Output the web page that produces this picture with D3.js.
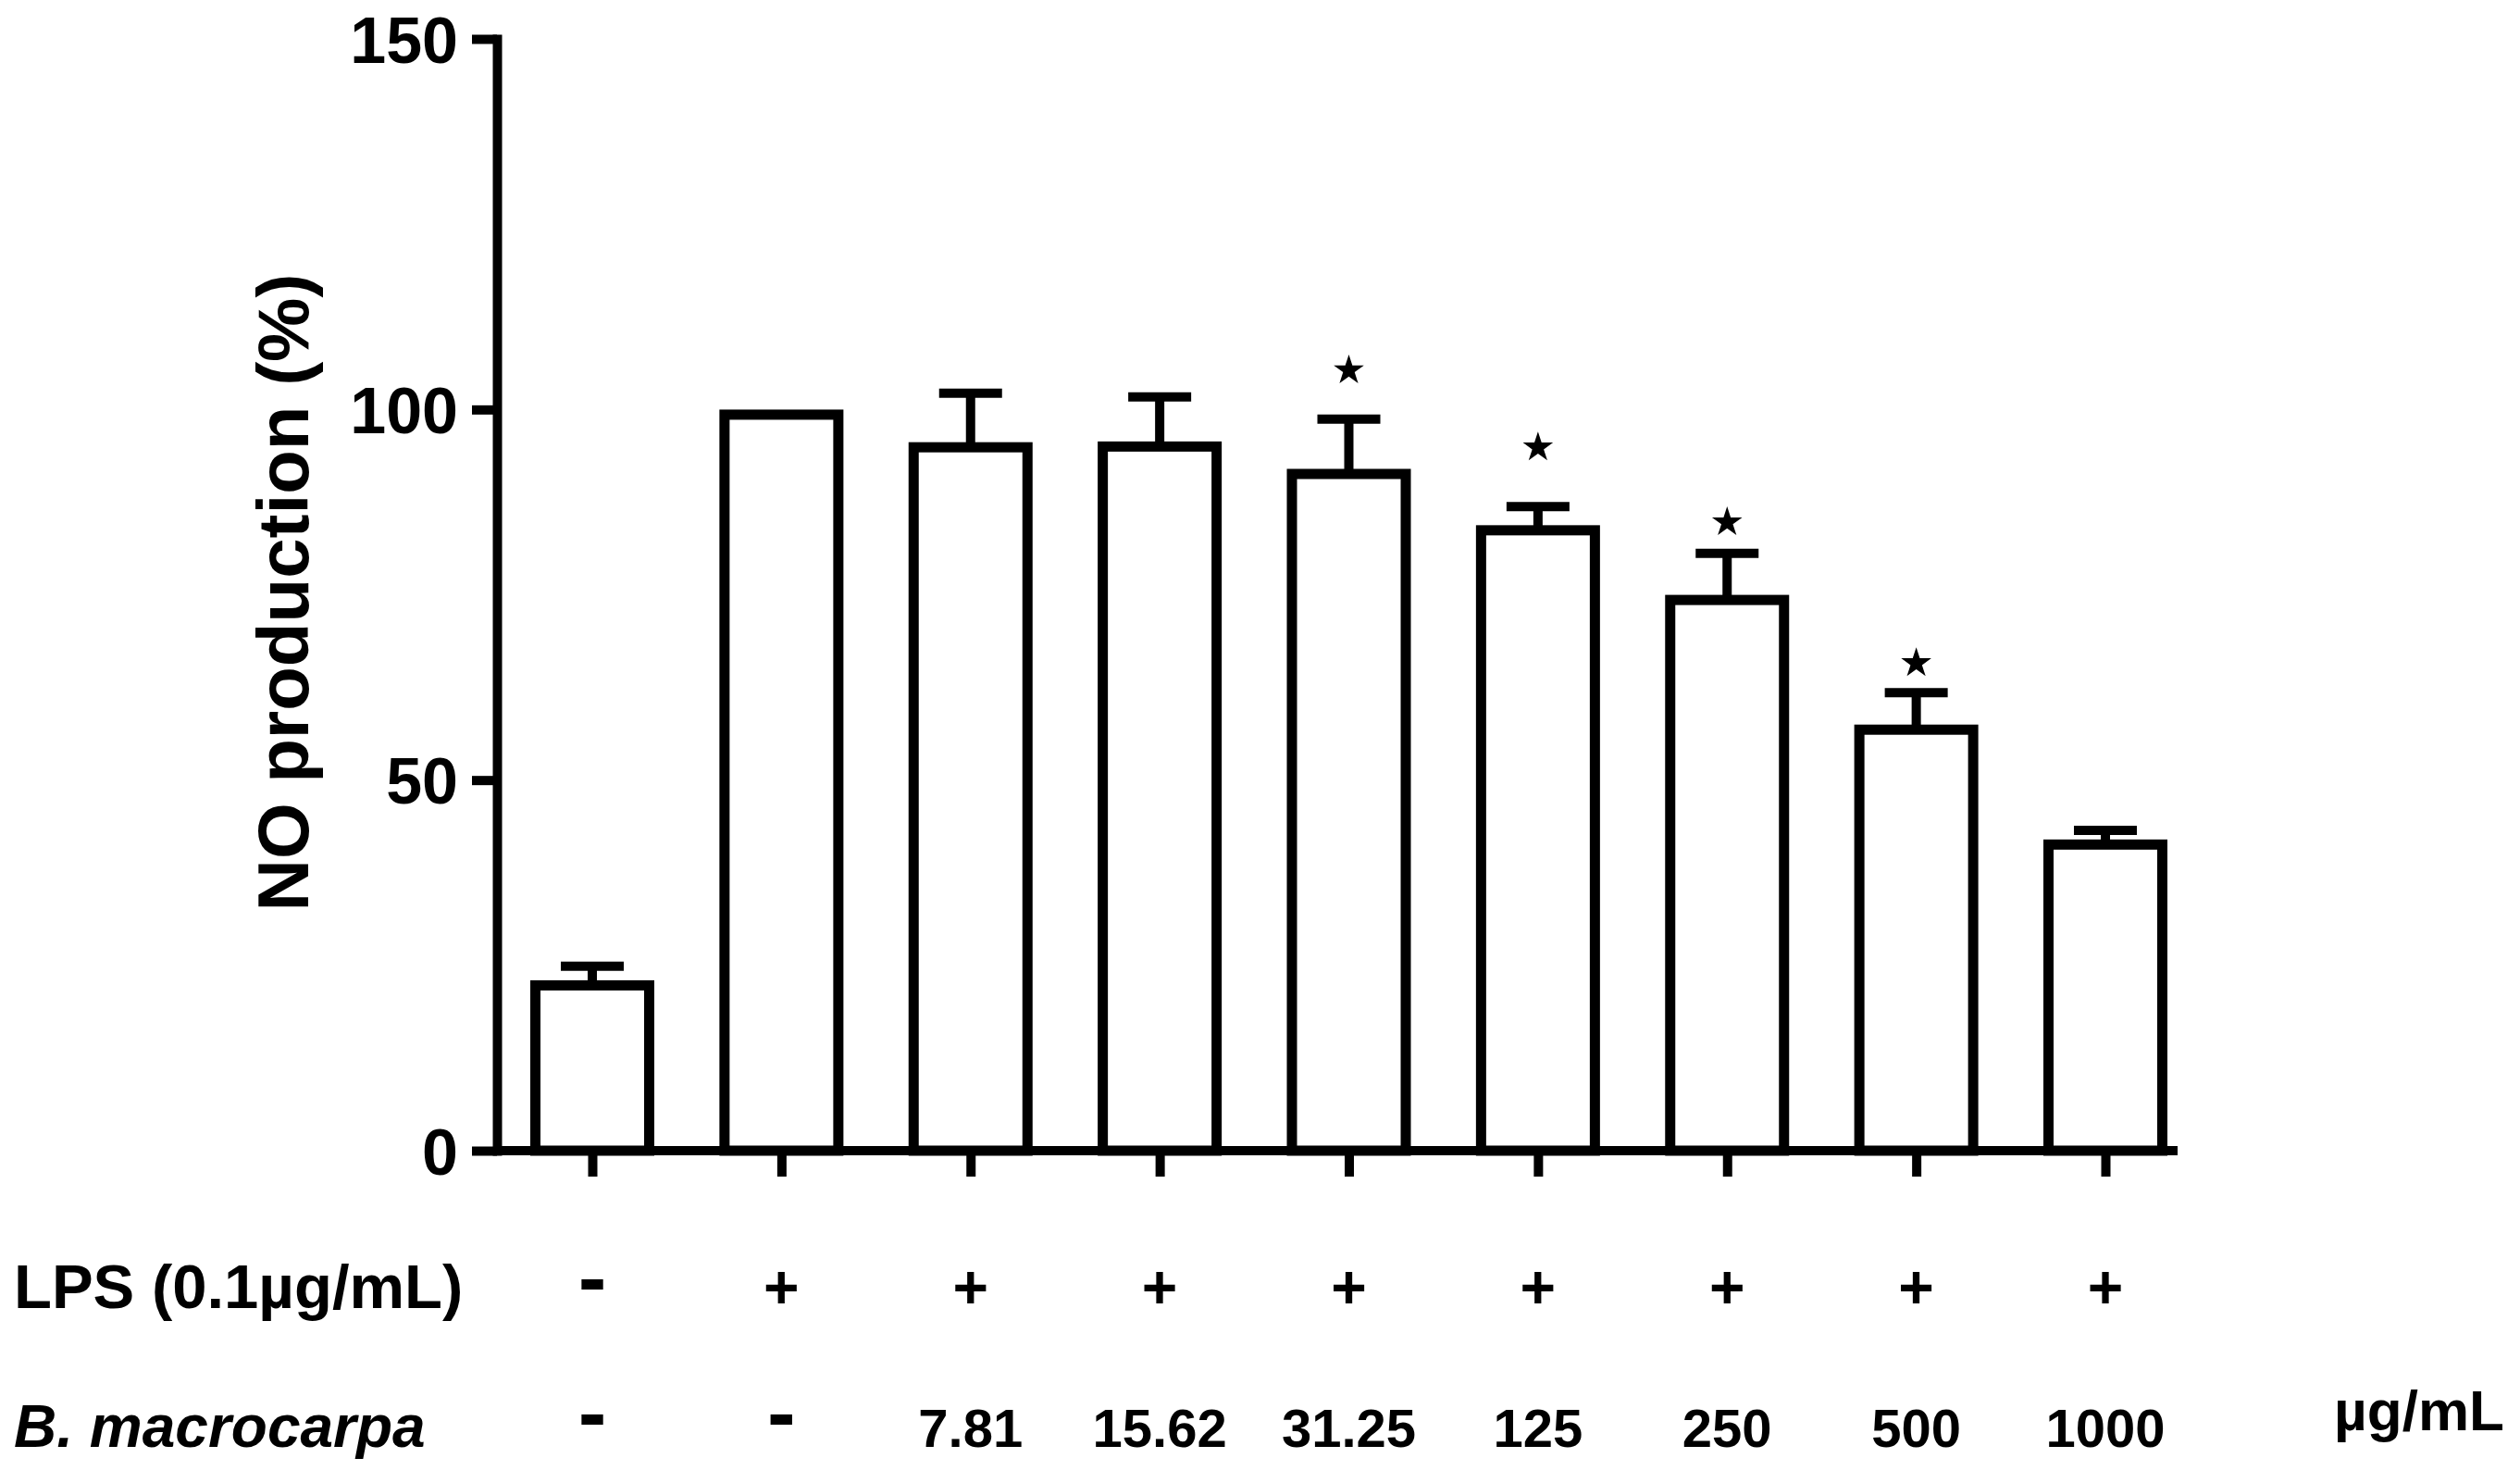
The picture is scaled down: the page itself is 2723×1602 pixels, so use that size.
<!DOCTYPE html>
<html>
<head>
<meta charset="utf-8">
<script src="https://cdn.jsdelivr.net/npm/d3@7"></script>
<style>
  html, body { margin: 0; padding: 0; background: #fff; }
  svg { display: block; }
  text { font-family: "Liberation Sans", Arial, Helvetica, sans-serif; font-weight: bold; fill: #000; }
</style>
</head>
<body>
<script>
// ---- Data ----
const groups = ["Control", "LPS", "7.81", "15.62", "31.25", "125", "250", "500", "1000"];
const lpsRow = ["-", "+", "+", "+", "+", "+", "+", "+", "+"];
const extractRow = ["-", "-", "7.81", "15.62", "31.25", "125", "250", "500", "1000"];
const means = [22.3, 99.3, 94.9, 95.0, 91.3, 83.7, 74.3, 56.8, 41.3];
const errors = [2.6, 0, 7.3, 6.7, 7.4, 3.2, 6.3, 5.0, 1.9];
const starLevels = [null, null, null, null, 105.4, 95.0, 84.9, 65.9, null];
const yTicks = [0, 50, 100, 150];
const yTitle = "NO production (%)";
const row1Label = "LPS (0.1\u00b5g/mL)";
const row2Label = "B. macrocarpa";
const unitLabel = "\u00b5g/mL";

// ---- Layout ----
const W = 2723, H = 1602;
const axisX = 537, topY = 42, baseY = 1243;
const firstX = 640, lastX = 2275, axisEndX = 2353;
const barW = 123, capW = 68;
const lw = 10;

const svg = d3.select("body").append("svg")
  .attr("width", W).attr("height", H)
  .attr("viewBox", `0 0 ${W} ${H}`);

const x = d3.scalePoint().domain(groups).range([firstX, lastX]);
const y = d3.scaleLinear().domain([0, 150]).range([baseY, topY]);

const data = groups.map((g, i) => ({ g, m: means[i], e: errors[i], s: starLevels[i] }));

// Bars
svg.append("g").selectAll("rect").data(data).join("rect")
  .attr("x", d => x(d.g) - barW / 2)
  .attr("y", d => y(d.m))
  .attr("width", barW)
  .attr("height", d => y(0) - y(d.m))
  .attr("fill", "#fff")
  .attr("stroke", "#000")
  .attr("stroke-width", 11);

// Error bars (upper only)
const eb = svg.append("g").attr("stroke", "#000").attr("stroke-width", lw);
eb.selectAll("line.v").data(data.filter(d => d.e > 0)).join("line")
  .attr("class", "v")
  .attr("x1", d => x(d.g)).attr("x2", d => x(d.g))
  .attr("y1", d => y(d.m)).attr("y2", d => y(d.m + d.e));
eb.selectAll("line.c").data(data.filter(d => d.e > 0)).join("line")
  .attr("class", "c")
  .attr("x1", d => x(d.g) - capW / 2).attr("x2", d => x(d.g) + capW / 2)
  .attr("y1", d => y(d.m + d.e)).attr("y2", d => y(d.m + d.e));

// Significance stars
const star = d3.symbol().type(d3.symbolStar).size(330);
svg.append("g").selectAll("path").data(data.filter(d => d.s !== null)).join("path")
  .attr("d", star)
  .attr("transform", d => `translate(${x(d.g)},${y(d.s) + 1})`)
  .attr("fill", "#000");

// Y axis
const yAxis = svg.append("g")
  .attr("transform", `translate(${axisX},0)`)
  .call(d3.axisLeft(y).tickValues(yTicks).tickSize(27).tickSizeOuter(0).tickPadding(15));
yAxis.select(".domain").attr("stroke", "#000").attr("stroke-width", lw).attr("stroke-linecap", "square");
yAxis.selectAll(".tick line").attr("stroke", "#000").attr("stroke-width", lw);
yAxis.selectAll(".tick text")
  .attr("font-size", 70).attr("dy", null).attr("y", 25)
  .style("font-family", "'Liberation Sans', Arial, sans-serif").style("font-weight", "bold");

// X axis
svg.append("line")
  .attr("x1", axisX).attr("x2", axisEndX)
  .attr("y1", baseY).attr("y2", baseY)
  .attr("stroke", "#000").attr("stroke-width", lw);
const xAxis = svg.append("g")
  .attr("transform", `translate(0,${baseY})`)
  .call(d3.axisBottom(x).tickSize(28).tickFormat(""));
xAxis.select(".domain").remove();
xAxis.selectAll(".tick line").attr("stroke", "#000").attr("stroke-width", lw);

// Y title
svg.append("text")
  .attr("transform", `translate(333,640) rotate(-90)`)
  .attr("text-anchor", "middle")
  .attr("font-size", 78)
  .text(yTitle);

// Row 1: LPS
const row1Y = 1413;
svg.append("text").attr("x", 15).attr("y", row1Y).attr("font-size", 67).text(row1Label);
svg.append("g").selectAll("text").data(groups).join("text")
  .attr("x", d => x(d))
  .attr("y", (d, i) => lpsRow[i] === "-" ? row1Y - 1 : row1Y)
  .attr("text-anchor", "middle")
  .attr("font-size", (d, i) => lpsRow[i] === "-" ? 92 : 66)
  .text((d, i) => lpsRow[i]);

// Row 2: B. macrocarpa
const row2Y = 1563;
svg.append("text").attr("x", 15).attr("y", row2Y).attr("font-size", 64)
  .style("font-style", "italic").text(row2Label);
svg.append("g").selectAll("text").data(groups).join("text")
  .attr("x", d => x(d))
  .attr("y", (d, i) => extractRow[i] === "-" ? row2Y - 5 : row2Y)
  .attr("text-anchor", "middle")
  .attr("font-size", (d, i) => extractRow[i] === "-" ? 92 : 58)
  .text((d, i) => extractRow[i]);
svg.append("text").attr("x", 2614).attr("y", 1545).attr("text-anchor", "middle")
  .attr("font-size", 62).text(unitLabel);
</script>
</body>
</html>
